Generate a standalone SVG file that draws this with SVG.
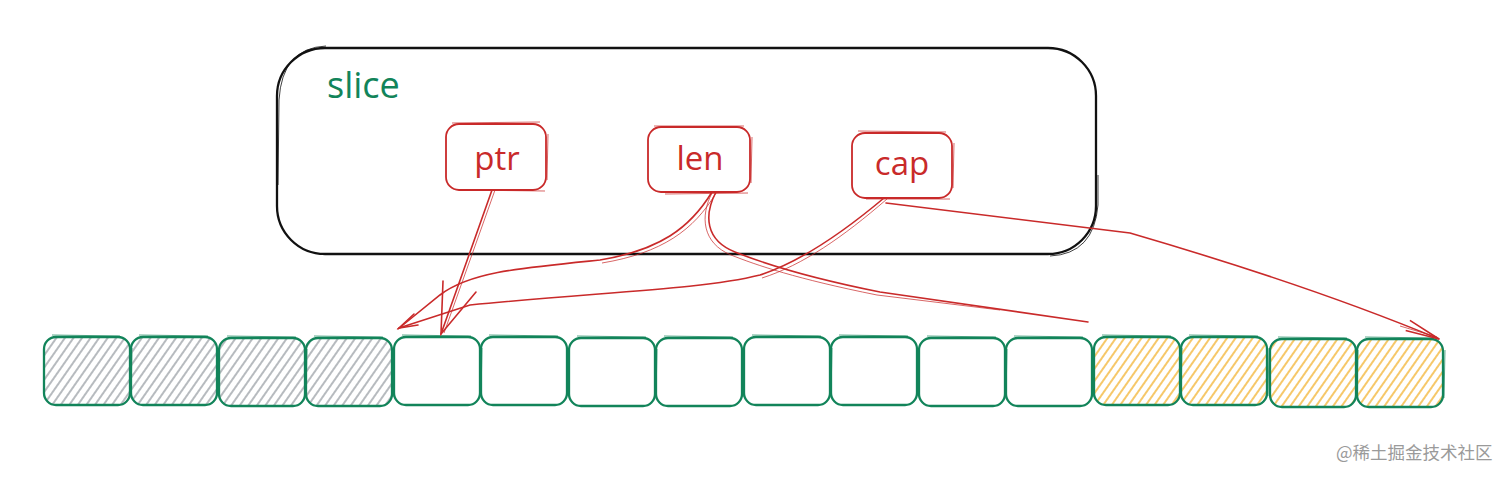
<svg xmlns="http://www.w3.org/2000/svg" width="1512" height="478" viewBox="0 0 1512 478">
  <defs>
    <pattern id="hatchGrey" width="7" height="7" patternUnits="userSpaceOnUse" patternTransform="rotate(35)">
      <line x1="2" y1="0" x2="2" y2="7" stroke="#9fa4a9" stroke-width="1.5"/>
    </pattern>
    <pattern id="hatchYellow" width="7" height="7" patternUnits="userSpaceOnUse" patternTransform="rotate(35)">
      <line x1="2" y1="0" x2="2" y2="7" stroke="#f3b637" stroke-width="1.5"/>
    </pattern>
    <marker id="headRed" viewBox="0 0 40 20" refX="38" refY="10" markerWidth="40" markerHeight="20" markerUnits="userSpaceOnUse" orient="auto">
      <path d="M4,4 L38,10 L4,15" fill="none" stroke="#c92a2a" stroke-width="1.6"/>
    </marker>
  </defs>
  <style>
    .cell { stroke: #12845a; stroke-width: 2.3; }
    .cell2 { fill: none; stroke: #12845a; stroke-width: 1; opacity: 0.7; }
    .field { fill: none; stroke: #c92a2a; stroke-width: 1.8; }
    .field2 { fill: none; stroke: #c92a2a; stroke-width: 0.9; opacity: 0.8; }
    .ftext { font-family: "Open Sans", "Liberation Sans", sans-serif; font-size: 33px; fill: #c92a2a; text-anchor: middle; }
    .conn { fill: none; stroke: #c92a2a; stroke-width: 1.6; stroke-linecap: round; }
    .conn2 { fill: none; stroke: #c92a2a; stroke-width: 0.9; opacity: 0.8; }
  </style>
  <rect width="1512" height="478" fill="#ffffff"/>

  <g id="slice">
    <rect x="277" y="48" width="819" height="206" rx="48" ry="48" fill="none" stroke="#111" stroke-width="2.3"/>
    <path d="M326,46 Q282,48 279,100 L278,185" fill="none" stroke="#111" stroke-width="1" opacity="0.8"/>
    <path d="M1050,256 Q1094,254 1098,205 L1098,175" fill="none" stroke="#111" stroke-width="1" opacity="0.8"/>
    <text x="327" y="98" font-family="Open Sans, Liberation Sans, sans-serif" font-size="36" fill="#12845a">slice</text>
  </g>

  <g id="ptr">
    <rect x="446" y="124" width="100" height="66" rx="13" class="field"/>
    <path d="M452,123 L540,122 M548,134 L547,180 M545,191 L460,190" class="field2"/>
    <text x="497" y="170" class="ftext">ptr</text>
  </g>
  <g id="len">
    <rect x="648" y="127" width="102" height="65" rx="13" class="field"/>
    <path d="M654,126 L744,126 M752,137 L751,183 M748,193 L665,194" class="field2"/>
    <text x="700" y="170" class="ftext">len</text>
  </g>
  <g id="cap">
    <rect x="852" y="133" width="100" height="65" rx="13" class="field"/>
    <path d="M858,131 L946,132 M954,143 L953,188 M950,199 L866,199" class="field2"/>
    <text x="902" y="175" class="ftext">cap</text>
  </g>

  <g id="cells">
    <g id="cell0"><rect x="44" y="337" width="86" height="68" rx="12" class="cell" fill="url(#hatchGrey)"/><path d="M52,335 L120,336 M132,348 L131,396" class="cell2"/></g>
    <g id="cell1"><rect x="131" y="337" width="86" height="68" rx="12" class="cell" fill="url(#hatchGrey)"/><path d="M139,335 L208,336 M219,348 L218,396" class="cell2"/></g>
    <g id="cell2"><rect x="219" y="338" width="86" height="68" rx="12" class="cell" fill="url(#hatchGrey)"/><path d="M227,336 L296,337 M307,349 L306,397" class="cell2"/></g>
    <g id="cell3"><rect x="306" y="338" width="86" height="68" rx="12" class="cell" fill="url(#hatchGrey)"/><path d="M314,336 L383,337 M394,349 L393,397" class="cell2"/></g>
    <g id="cell4"><rect x="394" y="337" width="86" height="68" rx="12" class="cell" fill="none"/><path d="M402,335 L471,336 M482,348 L481,396" class="cell2"/></g>
    <g id="cell5"><rect x="481" y="337" width="86" height="68" rx="12" class="cell" fill="none"/><path d="M489,335 L558,336 M569,348 L568,396" class="cell2"/></g>
    <g id="cell6"><rect x="569" y="338" width="86" height="68" rx="12" class="cell" fill="none"/><path d="M577,336 L646,337 M657,349 L656,397" class="cell2"/></g>
    <g id="cell7"><rect x="656" y="338" width="86" height="68" rx="12" class="cell" fill="none"/><path d="M664,336 L733,337 M744,349 L743,397" class="cell2"/></g>
    <g id="cell8"><rect x="744" y="337" width="86" height="68" rx="12" class="cell" fill="none"/><path d="M752,335 L821,336 M832,348 L831,396" class="cell2"/></g>
    <g id="cell9"><rect x="831" y="337" width="86" height="68" rx="12" class="cell" fill="none"/><path d="M839,335 L908,336 M919,348 L918,396" class="cell2"/></g>
    <g id="cell10"><rect x="919" y="338" width="86" height="68" rx="12" class="cell" fill="none"/><path d="M927,336 L996,337 M1007,349 L1006,397" class="cell2"/></g>
    <g id="cell11"><rect x="1006" y="338" width="86" height="68" rx="12" class="cell" fill="none"/><path d="M1014,336 L1083,337 M1094,349 L1093,397" class="cell2"/></g>
    <g id="cell12"><rect x="1094" y="337" width="86" height="68" rx="12" class="cell" fill="url(#hatchYellow)"/><path d="M1102,335 L1171,336 M1182,348 L1181,396" class="cell2"/></g>
    <g id="cell13"><rect x="1181" y="337" width="86" height="68" rx="12" class="cell" fill="url(#hatchYellow)"/><path d="M1189,335 L1258,336 M1269,348 L1268,396" class="cell2"/></g>
    <g id="cell14"><rect x="1270" y="339" width="86" height="68" rx="12" class="cell" fill="url(#hatchYellow)"/><path d="M1278,337 L1347,338 M1358,350 L1357,398" class="cell2"/></g>
    <g id="cell15"><rect x="1357" y="339" width="86" height="68" rx="12" class="cell" fill="url(#hatchYellow)"/><path d="M1365,337 L1434,338 M1445,350 L1444,398" class="cell2"/></g>
  </g>

  <g id="connectors">
    <!-- ptr -> cell4 -->
    <path d="M492,190 L441,334" class="conn"/>
    <path d="M495,190 L444,333" class="conn2"/>
    <path d="M443,281 L441,334 L476,292" class="conn"/>
    <!-- len -> cell4 -->
    <path d="M712,192 C 690,228 660,250 600,260 C 520,268 470,272 440,295 L 398,329" class="conn"/>
    <path d="M716,193 C 694,230 662,253 602,263" class="conn2"/>
    <!-- cap -> cell4 -->
    <path d="M884,198 C 840,235 800,262 760,275 C 700,290 600,292 470,305 L 399,328" class="conn"/>
    <path d="M887,199 C 843,237 803,265 762,278" class="conn2"/>
    <path d="M418,325 L399,328 L414,314" class="conn"/>
    <!-- len second line (no head) -->
    <path d="M716,192 C 704,215 705,240 735,252 C 760,262 800,276 880,292 L 1088,322" class="conn"/>
    <path d="M712,193 C 700,216 702,243 731,255 C 756,265 797,279 877,295 L 1000,310" class="conn2"/>
    <!-- cap -> cell15 -->
    <path d="M886,203 L 1130,233 C 1250,268 1350,302 1439,339" class="conn" marker-end="url(#headRed)"/>
    <path d="M1400,326 L1437,337" class="conn2"/>
  </g>

  <text x="1336" y="459" font-family="Noto Sans CJK SC, sans-serif" font-size="17.5" fill="#9a9a9a">@稀土掘金技术社区</text>
</svg>
